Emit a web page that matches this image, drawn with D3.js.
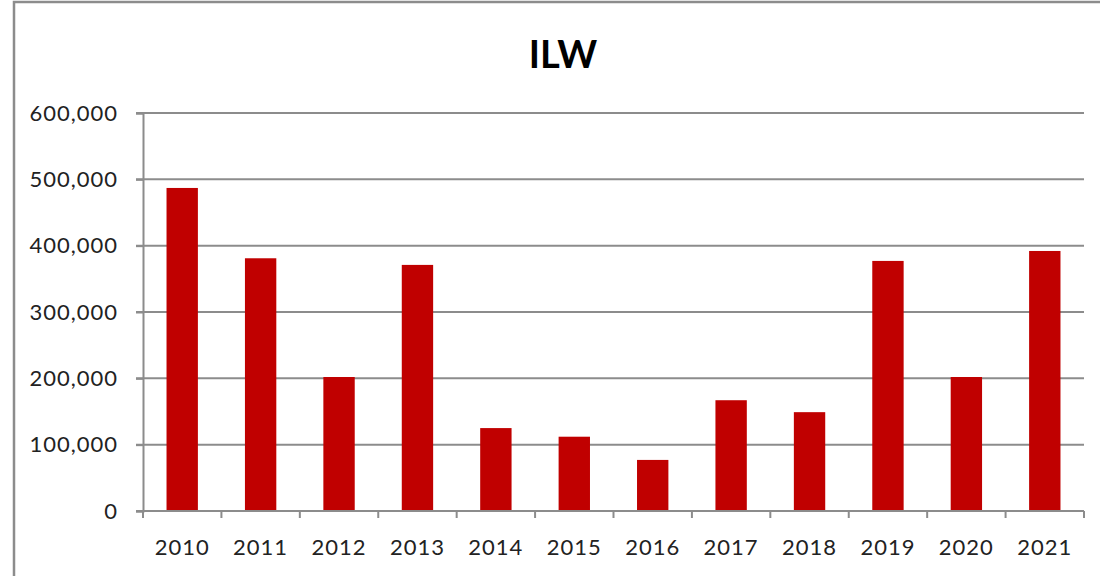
<!DOCTYPE html>
<meta charset="utf-8">
<style>
  body { margin: 0; background: #fff; }
  text { font-family: Lato, "Open Sans", sans-serif; }
</style>
<body>
<script src="https://d3js.org/d3.v7.min.js"></script>
<script>
// chart data
var years = ["2010","2011","2012","2013","2014","2015","2016","2017","2018","2019","2020","2021"];
var values = [487000, 381000, 202000, 371000, 125000, 112000, 77000, 167000, 149000, 377000, 202000, 392000];
var yTicks = [0, 100000, 200000, 300000, 400000, 500000, 600000];
var title = "ILW";

var width = 1100, height = 576;
var margin = {top: 113, right: 16, bottom: 65, left: 143};

var svg = d3.select("body").append("svg")
    .attr("width", width)
    .attr("height", height);

// outer chart border (left and top visible)
svg.append("path")
    .attr("d", "M14,576 L14,2 L1100,2")
    .attr("fill", "none")
    .attr("stroke", "#8c8c8c")
    .attr("stroke-width", 2.5);

var x = d3.scaleBand()
    .domain(years)
    .range([margin.left, width - margin.right])
    .paddingInner(0.6)
    .paddingOuter(0.3);

var y = d3.scaleLinear()
    .domain([0, 600000])
    .range([height - margin.bottom, margin.top]);

// gridlines
svg.append("g")
  .selectAll("line")
  .data(yTicks.slice(1))
  .enter().append("line")
    .attr("x1", margin.left - 7)
    .attr("x2", width - margin.right)
    .attr("y1", function(d) { return y(d); })
    .attr("y2", function(d) { return y(d); })
    .attr("stroke", "#8c8c8c")
    .attr("stroke-width", 2);

// bars
svg.append("g")
  .selectAll("rect")
  .data(values)
  .enter().append("rect")
    .attr("x", function(d, i) { return x(years[i]); })
    .attr("y", function(d) { return y(d); })
    .attr("width", x.bandwidth())
    .attr("height", function(d) { return y(0) - y(d); })
    .attr("fill", "#c00000");

// y axis
var yAxis = svg.append("g")
    .attr("transform", "translate(" + margin.left + ",0)")
    .call(d3.axisLeft(y).tickValues(yTicks).tickSize(7).tickPadding(18)
        .tickFormat(d3.format(",")));
yAxis.select(".domain").attr("stroke", "#8c8c8c").attr("stroke-width", 2);
yAxis.selectAll(".tick line").attr("stroke", "#8c8c8c").attr("stroke-width", 2);
yAxis.selectAll("text").attr("font-size", 22).attr("fill", "#222")
    .attr("letter-spacing", 1)
    .style("font-family", "Lato, 'Open Sans', sans-serif");

// x axis
var xAxis = svg.append("g")
    .attr("transform", "translate(0," + y(0) + ")");
xAxis.append("line")
    .attr("x1", margin.left - 7)
    .attr("x2", width - margin.right)
    .attr("stroke", "#8c8c8c")
    .attr("stroke-width", 2);
// ticks between categories
var bounds = d3.range(years.length + 1).map(function(i) {
  return margin.left + i * (width - margin.right - margin.left) / years.length;
});
xAxis.selectAll(".xtick")
  .data(bounds)
  .enter().append("line")
    .attr("class", "xtick")
    .attr("x1", function(d) { return d; })
    .attr("x2", function(d) { return d; })
    .attr("y1", 0)
    .attr("y2", 7)
    .attr("stroke", "#8c8c8c")
    .attr("stroke-width", 2);
xAxis.selectAll(".xlabel")
  .data(years)
  .enter().append("text")
    .attr("class", "xlabel")
    .attr("x", function(d) { return x(d) + x.bandwidth() / 2; })
    .attr("y", 44)
    .attr("text-anchor", "middle")
    .attr("font-size", 22)
    .attr("letter-spacing", 1)
    .attr("fill", "#222")
    .text(function(d) { return d; });

// title
svg.append("text")
    .attr("x", 563)
    .attr("y", 68)
    .attr("text-anchor", "middle")
    .attr("font-size", 38)
    .attr("font-weight", "bold")
    .attr("fill", "#000")
    .text(title);
</script>
</body>
